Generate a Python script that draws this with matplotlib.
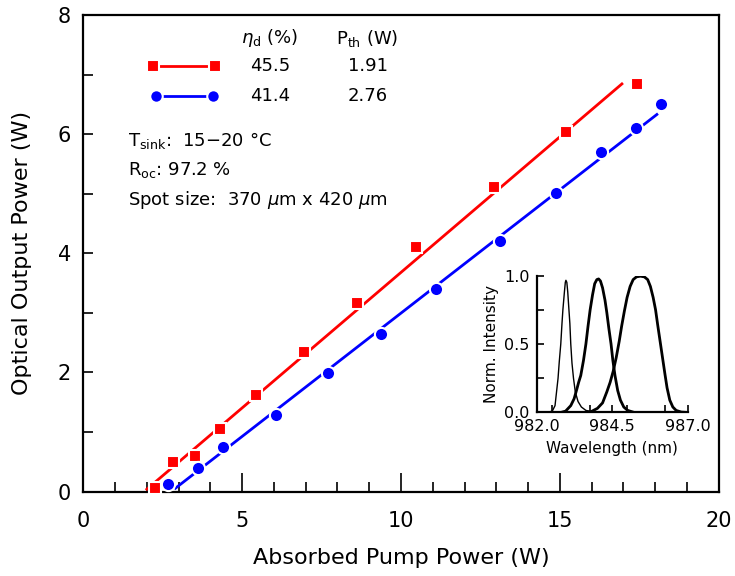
import matplotlib
matplotlib.use("Agg")
import matplotlib.pyplot as plt
from matplotlib.ticker import MultipleLocator

plt.rcParams['font.family'] = ['DejaVu Sans']
plt.rcParams['mathtext.fontset'] = 'dejavusans'

red_x = [2.25, 2.83, 3.51, 4.30, 5.45, 6.94, 8.62, 10.48, 12.92, 15.18, 17.42]
red_y = [0.06, 0.50, 0.60, 1.05, 1.62, 2.34, 3.16, 4.10, 5.12, 6.04, 6.84]
blue_x = [2.67, 3.60, 4.40, 6.08, 7.70, 9.38, 11.09, 13.10, 14.89, 16.28, 17.38, 18.19]
blue_y = [0.13, 0.39, 0.75, 1.28, 1.99, 2.64, 3.40, 4.20, 5.01, 5.70, 6.10, 6.50]

# linear fits: slope efficiency (%) and threshold (W)
eta = [45.5, 41.4]
pth = [1.91, 2.76]
fit_range = [[2.0, 16.95], [2.9, 18.05]]

# inset spectra
wl1 = [982.00, 982.35, 982.52, 982.61, 982.66, 982.71, 982.75, 982.80, 982.84, 982.87,
       982.92, 982.95, 982.97, 983.00, 983.03, 983.06, 983.10, 983.13, 983.17, 983.22,
       983.28, 983.37, 983.48, 983.63, 983.85, 984.12]
int1 = [0.0, 0.0, 0.01, 0.05, 0.15, 0.25, 0.37, 0.50, 0.65, 0.75,
        0.88, 0.95, 0.965, 0.95, 0.88, 0.78, 0.65, 0.50, 0.36, 0.25,
        0.15, 0.08, 0.04, 0.015, 0.005, 0.0]
wl2 = [982.00, 982.80, 982.96, 983.13, 983.24, 983.33, 983.39, 983.46, 983.55, 983.63,
       983.70, 983.77, 983.85, 983.92, 983.99, 984.05, 984.11, 984.18, 984.26, 984.32,
       984.39, 984.46, 984.52, 984.59, 984.68, 984.77, 984.88, 985.01, 985.23]
int2 = [0.0, 0.0, 0.01, 0.05, 0.10, 0.17, 0.22, 0.27, 0.38, 0.50,
        0.63, 0.75, 0.86, 0.94, 0.97, 0.975, 0.96, 0.91, 0.82, 0.73,
        0.61, 0.50, 0.38, 0.27, 0.16, 0.09, 0.04, 0.015, 0.0]
wl3 = [983.57, 983.79, 984.01, 984.18, 984.32, 984.43, 984.53, 984.63, 984.73, 984.81,
       984.90, 984.99, 985.09, 985.19, 985.30, 985.43, 985.56, 985.67, 985.76, 985.85,
       985.93, 986.00, 986.08, 986.16, 986.24, 986.31, 986.40, 986.50, 986.61, 986.78, 987.00]
int3 = [0.0, 0.005, 0.03, 0.07, 0.15, 0.22, 0.30, 0.40, 0.52, 0.63,
        0.74, 0.84, 0.92, 0.97, 0.99, 0.995, 0.99, 0.97, 0.92, 0.84,
        0.75, 0.64, 0.52, 0.40, 0.28, 0.18, 0.09, 0.04, 0.015, 0.003, 0.0]

fig = plt.figure(figsize=(7.35, 5.76), dpi=100)
ax = fig.add_axes([0.1133, 0.1464, 0.8647, 0.8276])

colors = ['#ff0000', '#0000ff']
for i, (xs, ys, mk) in enumerate([(red_x, red_y, 's'), (blue_x, blue_y, 'o')]):
    x0, x1 = fit_range[i]
    ax.plot([x0, x1], [eta[i] / 100 * (x0 - pth[i]), eta[i] / 100 * (x1 - pth[i])],
            color=colors[i], lw=2, zorder=2)
    ax.plot(xs, ys, mk, color=colors[i], ms=9.5 if mk == 'o' else 8.5,
            mec='white', mew=1.5, zorder=3, clip_on=False)

ax.set_xlim(0, 20)
ax.set_ylim(0, 8)
ax.xaxis.set_major_locator(MultipleLocator(5))
ax.xaxis.set_minor_locator(MultipleLocator(1))
ax.yaxis.set_major_locator(MultipleLocator(2))
ax.yaxis.set_minor_locator(MultipleLocator(1))
ax.tick_params(axis='x', which='major', direction='in', length=14, width=1.2, labelsize=15, pad=14)
ax.tick_params(axis='x', which='minor', direction='in', length=7, width=1.2)
ax.tick_params(axis='y', which='major', direction='in', length=7, width=1.2, labelsize=15, pad=9)
ax.tick_params(axis='y', which='minor', direction='in', length=7, width=1.2)
for s in ax.spines.values():
    s.set_linewidth(1.6)
ax.set_xlabel("Absorbed Pump Power (W)", fontsize=16, labelpad=12)
ax.set_ylabel("Optical Output Power (W)", fontsize=16, labelpad=18)

# legend table
fs = 13
ax.text(5.87, 7.61, r'$\eta_\mathrm{d}$ (%)', fontsize=fs, ha='center', va='center')
ax.text(8.95, 7.61, r'P$_\mathrm{th}$ (W)', fontsize=fs, ha='center', va='center')
ax.plot([2.19, 4.14], [7.14, 7.14], color=colors[0], lw=2, marker='s', ms=8,
        mec='white', mew=1.5)
ax.plot([2.29, 4.08], [6.64, 6.64], color=colors[1], lw=2, marker='o', ms=9,
        mec='white', mew=1.5)
ax.text(5.87, 7.14, f'{eta[0]}', fontsize=fs, ha='center', va='center')
ax.text(8.95, 7.14, f'{pth[0]}', fontsize=fs, ha='center', va='center')
ax.text(5.87, 6.64, f'{eta[1]}', fontsize=fs, ha='center', va='center')
ax.text(8.95, 6.64, f'{pth[1]}', fontsize=fs, ha='center', va='center')

ax.text(1.41, 5.90, r'T$_\mathrm{sink}$:  15$-$20 °C', fontsize=fs, va='center')
ax.text(1.41, 5.40, r'R$_\mathrm{oc}$: 97.2 %', fontsize=fs, va='center')
ax.text(1.41, 4.89, r'Spot size:  370 $\mu$m x 420 $\mu$m', fontsize=fs, va='center')

# inset
ins = fig.add_axes([0.730, 0.2839, 0.206, 0.2378])
ins.plot(wl1, int1, color='black', lw=1)
ins.plot(wl2, int2, color='black', lw=2)
ins.plot(wl3, int3, color='black', lw=2)
ins.set_xlim(982.0, 987.0)
ins.set_ylim(0, 1.0)
ins.set_xticks([982.0, 984.5, 987.0])
ins.set_xticklabels(['982.0', '984.5', '987.0'])
ins.set_yticks([0.0, 0.5, 1.0])
ins.set_yticklabels(['0.0', '0.5', '1.0'])
ins.xaxis.set_minor_locator(MultipleLocator(1.25))
ins.yaxis.set_minor_locator(MultipleLocator(0.25))
ins.tick_params(which='both', direction='in', length=5, width=1.2, labelsize=11.5)
ins.tick_params(axis='x', pad=5)
ins.tick_params(axis='y', pad=5)
ins.spines['top'].set_visible(False)
ins.spines['right'].set_visible(False)
ins.spines['left'].set_linewidth(1.6)
ins.spines['bottom'].set_linewidth(1.6)
ins.patch.set_alpha(0)
ins.set_xlabel("Wavelength (nm)", fontsize=11, labelpad=5)
ins.set_ylabel("Norm. Intensity", fontsize=11, labelpad=4)

fig.savefig("out.png", dpi=100)
